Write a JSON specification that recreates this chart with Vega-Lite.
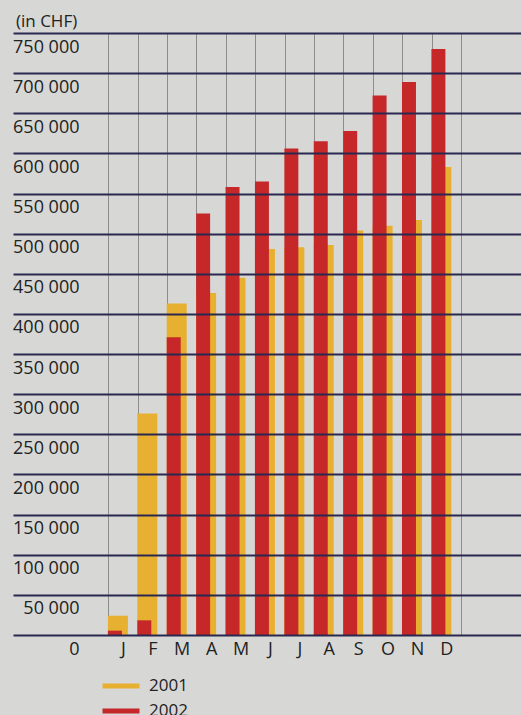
{
  "$schema": "https://vega.github.io/schema/vega-lite/v6.json",
  "width": 508,
  "height": 602,
  "autosize": "none",
  "padding": {"left": 13, "top": 33, "right": 0, "bottom": 80},
  "background": "#d7d8d6",
  "title": {"text": "(in CHF)", "anchor": "start", "frame": "group", "font": "Open Sans", "fontSize": 17, "fontWeight": "normal", "color": "#222222", "baseline": "alphabetic", "offset": 7, "dx": 3, "dy": 18},
  "data": {"values": [
    {"month": 1, "year": "2001", "value": 24000},
    {"month": 2, "year": "2001", "value": 276000},
    {"month": 3, "year": "2001", "value": 413000},
    {"month": 4, "year": "2001", "value": 426000},
    {"month": 5, "year": "2001", "value": 445000},
    {"month": 6, "year": "2001", "value": 481000},
    {"month": 7, "year": "2001", "value": 483000},
    {"month": 8, "year": "2001", "value": 486000},
    {"month": 9, "year": "2001", "value": 504000},
    {"month": 10, "year": "2001", "value": 510000},
    {"month": 11, "year": "2001", "value": 517000},
    {"month": 12, "year": "2001", "value": 583000},
    {"month": 1, "year": "2002", "value": 5400},
    {"month": 2, "year": "2002", "value": 18300},
    {"month": 3, "year": "2002", "value": 371000},
    {"month": 4, "year": "2002", "value": 525000},
    {"month": 5, "year": "2002", "value": 558000},
    {"month": 6, "year": "2002", "value": 565000},
    {"month": 7, "year": "2002", "value": 606000},
    {"month": 8, "year": "2002", "value": 615000},
    {"month": 9, "year": "2002", "value": 628000},
    {"month": 10, "year": "2002", "value": 672000},
    {"month": 11, "year": "2002", "value": 689000},
    {"month": 12, "year": "2002", "value": 730000}
  ]},
  "encoding": {
    "y": {"field": "value", "type": "quantitative", "scale": {"domain": [0, 750000], "nice": false},
      "axis": {"values": [0, 50000, 100000, 150000, 200000, 250000, 300000, 350000, 400000, 450000, 500000, 550000, 600000, 650000, 700000, 750000],
        "labelExpr": "replace(format(datum.value, ','), ',', ' ')",
        "grid": true, "gridColor": "#2a2850", "gridWidth": 2, "gridOpacity": 1,
        "domain": false, "ticks": false, "tickSize": 0,
        "labelAlign": "right", "labelBaseline": "alphabetic", "labelPadding": -66, "labelOffset": 19,
        "labelFont": "Open Sans", "labelFontSize": 18, "labelColor": "#222222",
        "labelFlush": false, "labelOverlap": false, "labelBound": false, "title": null, "zindex": 1}},
    "color": {"field": "year", "type": "nominal",
      "scale": {"domain": ["2001", "2002"], "range": ["#e8b030", "#c6282a"]},
      "legend": {"orient": "none", "legendX": 99.5, "legendY": 644.5, "title": null,
        "symbolType": "M-3.7,-0.5H3.7V0.5H-3.7Z", "symbolSize": 100, "symbolStrokeWidth": 0,
        "labelFont": "Open Sans", "labelFontSize": 17, "labelColor": "#222222", "labelOffset": 19.5,
        "rowPadding": 7, "padding": 0, "labelBaseline": "middle"}}
  },
  "layer": [
    {
      "transform": [{"filter": "datum.year == '2001'"}],
      "mark": {"type": "bar", "orient": "vertical", "width": 20, "xOffset": -5},
      "encoding": {
        "x": {"field": "month", "type": "quantitative", "scale": {"domain": [-2.56667, 14.36667], "nice": false, "zero": false},
          "axis": {"values": [1, 2, 3, 4, 5, 6, 7, 8, 9, 10, 11, 12],
            "labelExpr": "['J','F','M','A','M','J','J','A','S','O','N','D'][datum.value - 1]",
            "grid": false, "domain": false, "ticks": false, "tickSize": 0,
            "labelPadding": 19, "labelBaseline": "alphabetic",
            "labelFont": "Open Sans", "labelFontSize": 18, "labelColor": "#222222",
            "labelFlush": false, "labelOverlap": false, "title": null}}
      }
    },
    {
      "transform": [{"filter": "datum.year == '2002'"}],
      "mark": {"type": "bar", "orient": "vertical", "width": 14, "xOffset": -8},
      "encoding": {
        "x": {"field": "month", "type": "quantitative", "scale": {"domain": [-2.56667, 14.36667], "nice": false, "zero": false},
          "axis": {"orient": "top", "values": [0.5, 1.5, 2.5, 3.5, 4.5, 5.5, 6.5, 7.5, 8.5, 9.5, 10.5, 11.5, 12.5],
            "labels": false, "ticks": false, "domain": false, "grid": true,
            "gridColor": "#8c8c8c", "gridWidth": 1, "gridOpacity": 1, "title": null, "zindex": 0}}
      }
    }
  ],
  "resolve": {"axis": {"x": "independent"}},
  "config": {"view": {"stroke": null}}
}
